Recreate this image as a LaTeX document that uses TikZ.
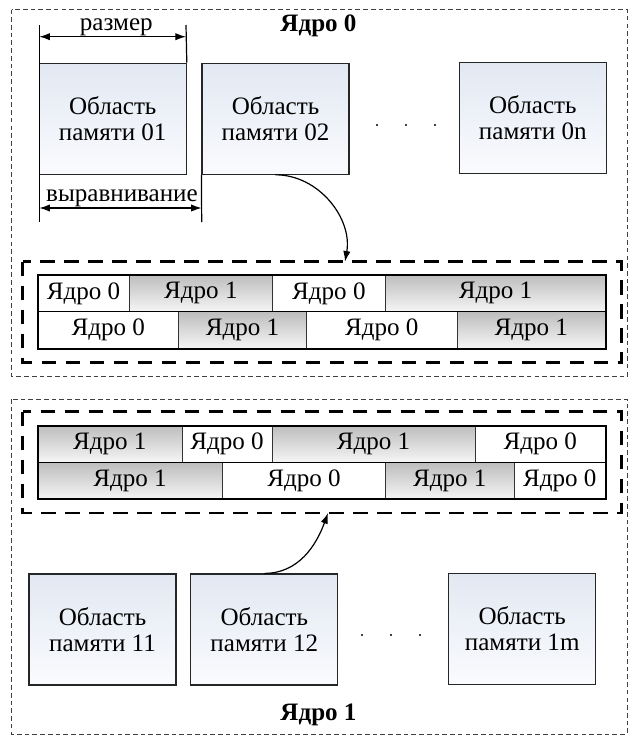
\documentclass[tikz,border=0pt]{standalone}
\usepackage{fontspec}
\setmainfont{Liberation Serif}
\usetikzlibrary{arrows.meta,calc}
\definecolor{boxtop}{HTML}{E2E8F2}
\definecolor{boxbot}{HTML}{FAFBFE}
\definecolor{celltop}{HTML}{BDBDBD}
\definecolor{cellbot}{HTML}{F6F6F6}
\newcommand\tcell[7]{%
  \path[#5] (#1,#3) rectangle (#2,#4);
  \node[celltext] (#7) at ({(#1+#2)/2},{(#3+#4)/2}) {#6};}
\begin{document}
\begin{tikzpicture}[x=0.75pt,y=-0.75pt,
  font=\fontsize{18.8}{18.8}\selectfont,
  outerbox/.style={draw=black!75,line width=0.6pt,dash pattern=on 3.5pt off 2.3pt},
  thickdash/.style={draw=black,line width=2.2pt,dash pattern=on 11pt off 7pt},
  membox/.style={draw=black!85,line width=0.9pt,top color=boxtop,bottom color=boxbot,
    minimum width=110.25pt,minimum height=83.25pt,align=center,inner sep=0pt},
  wcell/.style={draw=black!80,line width=0.7pt,fill=white},
  gcell/.style={draw=black!80,line width=0.7pt,top color=celltop,bottom color=cellbot},
  celltext/.style={inner sep=0pt},
  tableframe/.style={draw=black,line width=1.5pt},
  dimline/.style={draw=black,line width=0.9pt},
  dimarrow/.style={draw=black,line width=0.9pt,{Latex[length=8pt,width=5.5pt]}-{Latex[length=8pt,width=5.5pt]}},
  curvearrow/.style={draw=black,line width=0.9pt,-{Latex[length=8pt,width=5.5pt]}},
  title/.style={font=\fontsize{18.8}{18.8}\selectfont\bfseries,anchor=base},
  dot/.style={fill=black,circle,inner sep=0pt,minimum size=1.8pt}
]
\useasboundingbox (0,0) rectangle (633,736);
\fill[white] (0,0) rectangle (633,736);

% ---------- top section (core 0) ----------
\path[outerbox] (11.7,9.5) rectangle (627.5,376);
\node[title] (t0) at (318.5,31) {Ядро 0};

\node[membox] (m01) at (112.7,118.7) {Область\\[1.2pt]памяти 01};
\node[membox] (m02) at (275.5,118.7) {Область\\[1.2pt]памяти 02};
\node[membox] (m0n) at (532.8,117.8) {Область\\[1.2pt]памяти 0n};
\node[dot] (d01) at (377,125) {};
\node[dot] (d02) at (406,125) {};
\node[dot] (d03) at (435,125) {};

% dimension lines
\coordinate (vA1) at (39.3,25);
\coordinate (vA2) at (39.3,222);
\coordinate (vB1) at (186,25);
\coordinate (vC2) at (201.7,222);
\draw[dimline] (vA1) -- (vA2);
\draw[dimline] (vB1) -- (m01.north east);
\draw[dimline] (m02.south west) -- (vC2);
\coordinate (sA) at (39.3,36.7);
\coordinate (sB) at (186,36.7);
\draw[dimarrow] (sA) -- (sB);
\node[anchor=base] (lsize) at (116.3,30.5) {размер};
\coordinate (aA) at (39.3,208);
\coordinate (aB) at (201.7,208);
\draw[dimarrow] (aA) -- (aB);
\node[anchor=base] (lalign) at (122,201.5) {выравнивание};

% table 0
\path[thickdash] (22.7,261.7) rectangle (621.7,362.7);
\coordinate (tgt0) at (345,261.7);
\tcell{37.7}{129.5}{275}{311.7}{wcell}{Ядро 0}{a1}
\tcell{129.5}{272.3}{275}{311.7}{gcell}{Ядро 1}{a2}
\tcell{272.3}{385.5}{275}{311.7}{wcell}{Ядро 0}{a3}
\tcell{385.5}{605.7}{275}{311.7}{gcell}{Ядро 1}{a4}
\tcell{37.7}{178.7}{311.7}{348.7}{wcell}{Ядро 0}{b1}
\tcell{178.7}{306.4}{311.7}{348.7}{gcell}{Ядро 1}{b2}
\tcell{306.4}{457}{311.7}{348.7}{wcell}{Ядро 0}{b3}
\tcell{457}{605.7}{311.7}{348.7}{gcell}{Ядро 1}{b4}
\path[tableframe] (37.7,275) rectangle (605.7,348.7);
\draw[line width=1.1pt] (37.7,311.7) -- (605.7,311.7);

\draw[curvearrow] (m02.south) to[out=0,in=80] (tgt0);

% ---------- bottom section (core 1) ----------
\path[outerbox] (11.7,399) rectangle (627,734);
\node[title] (t1) at (318.5,720) {Ядро 1};

\path[thickdash] (22.7,411.7) rectangle (621.7,513);
\coordinate (tgt1) at (328,513);
\tcell{37.7}{182}{425.5}{462.5}{gcell}{Ядро 1}{c1}
\tcell{182}{272}{425.5}{462.5}{wcell}{Ядро 0}{c2}
\tcell{272}{475}{425.5}{462.5}{gcell}{Ядро 1}{c3}
\tcell{475}{605.7}{425.5}{462.5}{wcell}{Ядро 0}{c4}
\tcell{37.7}{222.5}{462.5}{499.3}{gcell}{Ядро 1}{e1}
\tcell{222.5}{385.5}{462.5}{499.3}{wcell}{Ядро 0}{e2}
\tcell{385.5}{514}{462.5}{499.3}{gcell}{Ядро 1}{e3}
\tcell{514}{605.7}{462.5}{499.3}{wcell}{Ядро 0}{e4}
\path[tableframe] (37.7,425.5) rectangle (605.7,499.3);
\draw[line width=1.1pt] (37.7,462.5) -- (605.7,462.5);

\node[membox] (m11) at (102.5,629.5) {Область\\[1.2pt]памяти 11};
\node[membox] (m12) at (264.3,629.5) {Область\\[1.2pt]памяти 12};
\node[membox] (m1m) at (522.2,628.7) {Область\\[1.2pt]памяти 1m};
\node[dot] (d11) at (362,635) {};
\node[dot] (d12) at (391,635) {};
\node[dot] (d13) at (420,635) {};

\draw[curvearrow] (m12.north) to[out=0,in=-110] (tgt1);
\end{tikzpicture}
\end{document}
